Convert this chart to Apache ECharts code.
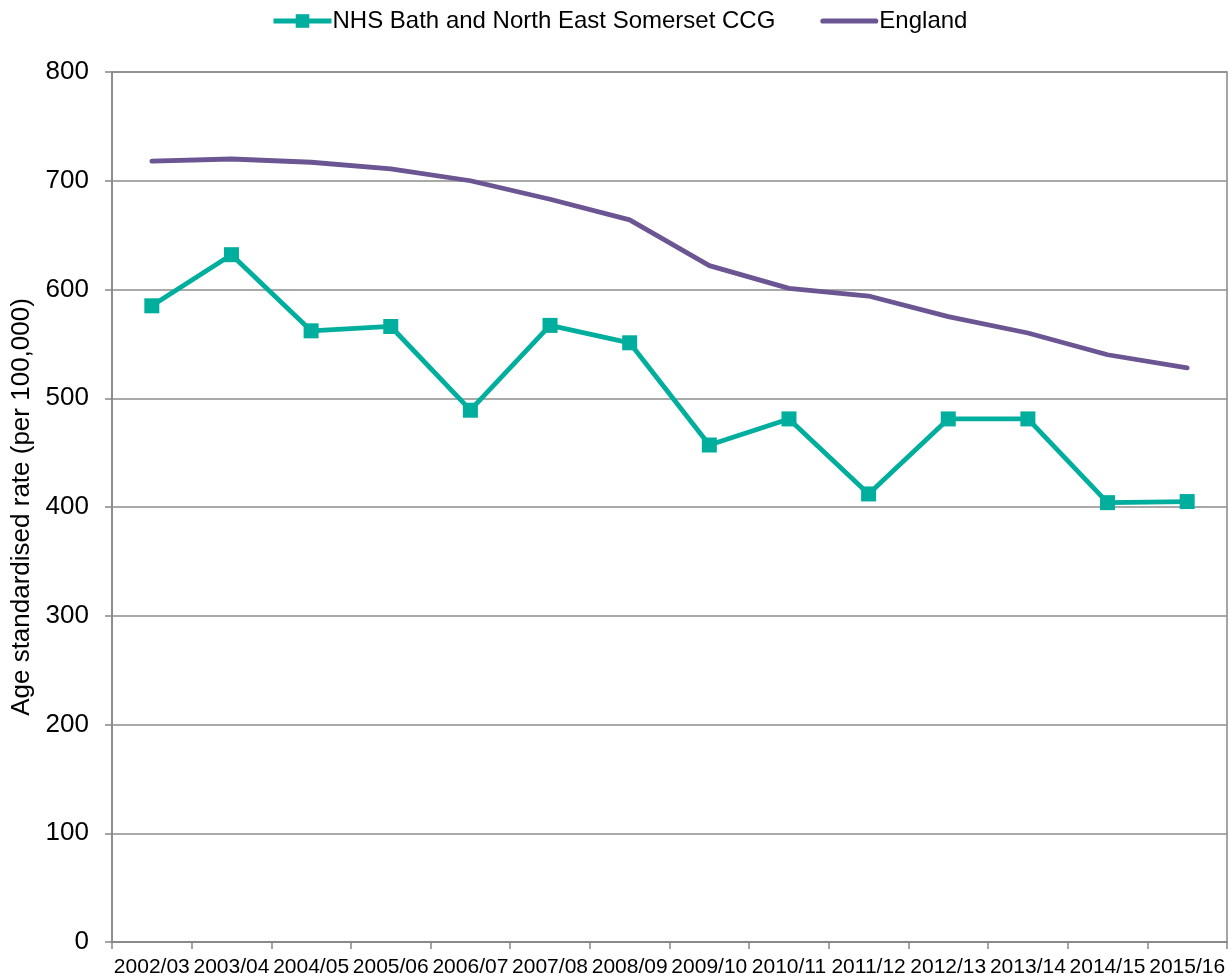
<!DOCTYPE html>
<html><head><meta charset="utf-8">
<script src="https://cdn.jsdelivr.net/npm/echarts@6/dist/echarts.min.js"></script>
<style>html,body{margin:0;padding:0;background:#fff}#c{width:1231px;height:980px}</style>
</head><body><div id="c"></div>
<script>
const categories = ["2002/03","2003/04","2004/05","2005/06","2006/07","2007/08","2008/09","2009/10","2010/11","2011/12","2012/13","2013/14","2014/15","2015/16"];
const ccgValues = [585, 632, 562, 566, 489, 567, 551, 457, 481, 412, 481, 481, 404, 405];
const englandValues = [718, 720, 717, 711, 700, 683, 664, 622, 601, 594, 575, 560, 540, 528];
const seriesNames = ["NHS Bath and North East Somerset CCG", "England"];
const yTicks = {min: 0, max: 800, interval: 100};

const chart = echarts.init(document.getElementById('c'), null, {renderer: 'canvas'});
const font = 'Liberation Sans, Arial, sans-serif';
const teal = '#00ae9d', purple = '#6b5592';
chart.setOption({
  animation: false,
  textStyle: {fontFamily: font},
  legend: {
    top: 4, left: 266, itemGap: 45, itemWidth: 58, itemHeight: 17,
    textStyle: {fontSize: 24, color: '#000', fontFamily: font, padding: [0,0,0,-4]},
    data: [
      {name: seriesNames[0], lineStyle: {width: 5, color: teal}},
      {name: seriesNames[1], icon: 'path://M2.5,0 L53.5,0 A2.5,2.5 0 0 1 53.5,5 L2.5,5 A2.5,2.5 0 0 1 2.5,0 Z', itemStyle: {color: purple}}
    ]
  },
  grid: {left: 112, right: 4, top: 72, bottom: 38, show: true, borderColor: '#868686', borderWidth: 1.5, outerBoundsMode: 'none', containLabel: false},
  xAxis: {
    type: 'category', data: categories, boundaryGap: true,
    axisLine: {lineStyle: {color: '#868686', width: 1.5}},
    axisTick: {show: true, alignWithLabel: false, length: 7, lineStyle: {color: '#868686', width: 1.5}},
    axisLabel: {color: '#000', fontSize: 21, fontFamily: font, margin: 15, interval: 0}
  },
  yAxis: {
    type: 'value', min: yTicks.min, max: yTicks.max, interval: yTicks.interval,
    name: 'Age standardised rate (per 100,000)', nameLocation: 'middle', nameGap: 76,
    nameTextStyle: {fontSize: 26, color: '#000', fontFamily: font},
    axisLine: {show: true, lineStyle: {color: '#868686', width: 1.5}},
    axisTick: {show: true, length: 7, lineStyle: {color: '#868686', width: 1.5}},
    axisLabel: {color: '#000', fontSize: 26, fontFamily: font, margin: 23},
    splitLine: {lineStyle: {color: '#8c8c8c', width: 1.5}}
  },
  series: [
    {
      name: seriesNames[0], type: 'line', data: ccgValues,
      symbol: 'rect', symbolSize: 15,
      lineStyle: {color: teal, width: 4.8},
      itemStyle: {color: teal}
    },
    {
      name: seriesNames[1], type: 'line', data: englandValues,
      symbol: 'none',
      lineStyle: {color: purple, width: 4.8, cap: 'round'},
      itemStyle: {color: purple}
    }
  ]
});
</script>
</body></html>
